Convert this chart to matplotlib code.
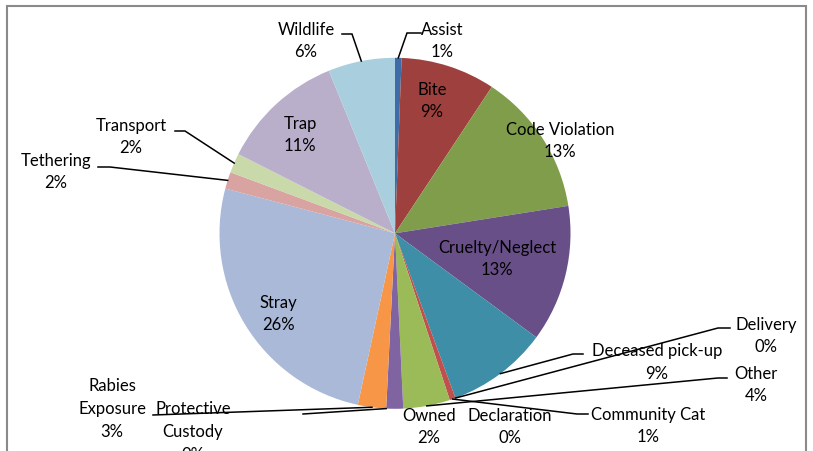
import math
import matplotlib
matplotlib.use("Agg")
import matplotlib.pyplot as plt
from matplotlib.patches import Rectangle

# ---- data ----
categories = ['Assist', 'Bite', 'Code Violation', 'Cruelty/Neglect', 'Deceased pick-up',
              'Declaration', 'Delivery', 'Community Cat', 'Other', 'Owned',
              'Protective Custody', 'Rabies Exposure', 'Stray', 'Tethering',
              'Transport', 'Trap', 'Wildlife']
values = [0.6, 8.7, 13.2, 12.6, 9.3,
          0.0, 0.0, 0.55, 4.3, 1.55,
          0.0, 2.6, 25.7, 1.55,
          1.8, 11.4, 6.15]
colors = ['#3E6CA6', '#9E413E', '#7F9D4A', '#694F88', '#3D8EA6',
          '#D8792F', '#4F81BD', '#C0504D', '#9BBB59', '#8064A2',
          '#4BACC6', '#F79646', '#AAB9D7', '#D9A3A2',
          '#C9D9A9', '#B9AFCB', '#A9CFDE']

# ---- layout (pixel positions of label blocks & leader elbows) ----
W, H = 813, 452
CX, CY, R = 395.0, 234.3, 175.5
label_pos = {
    'Assist': (442, 41), 'Bite': (432, 101), 'Code Violation': (560, 141),
    'Cruelty/Neglect': (497, 259), 'Deceased pick-up': (657, 362.5),
    'Declaration': (510, 427), 'Delivery': (766, 336), 'Community Cat': (648, 426),
    'Other': (756, 385), 'Owned': (429, 427), 'Protective Custody': (193, 432),
    'Rabies Exposure': (112, 409), 'Stray': (278, 314), 'Tethering': (56, 172),
    'Transport': (131, 137), 'Trap': (300, 135), 'Wildlife': (306, 41),
}
wrap_words = {'Rabies Exposure', 'Protective Custody'}
leaders = {
    'Assist': [(421, 34), (407, 34)],
    'Wildlife': [(342, 35), (352, 35)],
    'Deceased pick-up': [(583, 355), (573, 355)],
    'Delivery': [(730, 329), (718, 329)],
    'Other': [(727, 379), (718, 379)],
    'Community Cat': [(588, 415), (577, 415)],
    'Tethering': [(98, 168), (110, 168)],
    'Transport': [(175, 132), (185, 132)],
    'Rabies Exposure': [(153, 416)],
    'Protective Custody': [(303, 415)],
}


def P(x, y):
    return ((x - CX) / R, (CY - y) / R)


plt.rcParams['font.family'] = ['Lato', 'DejaVu Sans']
fig = plt.figure(figsize=(W / 100, H / 100), dpi=100)
ax = fig.add_axes([0, 0, 1, 1])
wedges, _ = ax.pie(values, colors=colors, startangle=90, counterclock=False,
                   radius=1.0, wedgeprops=dict(linewidth=0))
ax.set_xlim(-CX / R, (W - CX) / R)
ax.set_ylim((CY - H) / R, CY / R)
ax.set_aspect('auto')
ax.axis('off')

total = sum(values)
cum = 0.0
for name, v in zip(categories, values):
    mid = (cum + v / 2) / total * 2 * math.pi
    cum += v
    anchor = (math.sin(mid), math.cos(mid))
    pct = int(math.floor(v / total * 100 + 0.5 + 1e-9))
    nm = name.replace(' ', '\n') if name in wrap_words else name
    lx, ly = P(*label_pos[name])
    ax.text(lx, ly, f'{nm}\n{pct}%', ha='center', va='center', fontsize=12,
            linespacing=1.52, color='#000000', zorder=5)
    if name in leaders:
        pts = [P(*p) for p in leaders[name]] + [anchor]
        ax.plot([p[0] for p in pts], [p[1] for p in pts], color='black',
                lw=1.1, solid_joinstyle='miter', zorder=4)

fig.add_artist(Rectangle((7 / W, -0.1), (806 - 7) / W, 1 - 7 / H + 0.1,
                         transform=fig.transFigure, fill=False,
                         edgecolor='#8A8A8A', lw=1.5))
fig.savefig('out.png', dpi=100)
